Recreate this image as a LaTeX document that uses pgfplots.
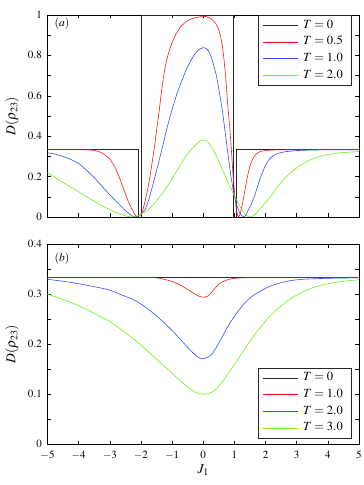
\documentclass[border=0pt]{standalone}
\usepackage{mathptmx}
\usepackage{fontspec}
\setmainfont{Liberation Serif}
\usepackage{pgfplots}
\pgfplotsset{compat=1.18}

\definecolor{cblack}{RGB}{40,40,40}
\definecolor{cred}{RGB}{255,20,20}
\definecolor{cblue}{RGB}{50,80,255}
\definecolor{cgreen}{RGB}{110,240,20}

\pgfplotsset{
  panel/.style={
    scale only axis, width=311.5pt,
    xmin=-5, xmax=5, xtick={-5,...,5},
    tick align=inside, tick pos=both,
    major tick length=3.5pt, minor tick length=3.5pt,
    minor y tick num=1,
    axis line style={line width=0.8pt},
    every tick/.style={black, line width=0.5pt},
    tick label style={font=\fontsize{11}{13}\selectfont},
    xticklabel style={yshift=-3.5pt},
    yticklabel style={xshift=-2pt},
    every axis y label/.style={at={(axis description cs:-0.114,0.5)}, rotate=90,
      anchor=center, font=\fontsize{13.5}{15}\selectfont},
    ylabel={$D(\rho_{23})$},
    legend cell align=left,
    legend image code/.code={\draw[#1] (0pt,0pt) -- (35pt,0pt);},
    legend style={draw=black!85, line width=0.8pt, inner xsep=4pt, inner ysep=1.5pt,
      font=\fontsize{12.5}{14}\selectfont,
      nodes={inner xsep=5pt, inner ysep=2.75pt, text height=8.5pt, text depth=2.7pt}},
  },
  c0/.style={cblack, line width=0.6pt},
  c1/.style={cred, line width=0.6pt},
  c2/.style={cblue, line width=0.6pt},
  c3/.style={cgreen, line width=0.6pt},
}

\begin{document}
\begin{tikzpicture}
% (a)
\begin{axis}[panel, at={(47.5pt,268pt)}, anchor=south west, height=202pt,
  ymin=0, ymax=1, ytick={0,0.2,0.4,0.6,0.8,1}, xticklabels={},
  legend style={at={(rel axis cs:0.9785,1)}, anchor=north east}]
\addplot[c0] coordinates {(-5,0.3333) (-2.08,0.3333) (-2.08,0) (-1.98,0) (-1.98,1)
  (0.95,1) (0.95,0) (1.05,0) (1.05,0.3333) (5,0.3333)};
\addplot[c1] coordinates {(-5,0.3333) (-4.5,0.3333) (-4,0.3332) (-3.7,0.3325)
  (-3.5,0.330) (-3.3,0.321) (-3.15,0.307) (-3.0,0.288) (-2.83,0.245) (-2.7,0.2) (-2.62,0.165)
  (-2.5,0.115) (-2.41,0.078) (-2.3,0.042) (-2.2,0.014) (-2.15,0.004) (-2.12,0.0) (-2.08,0.002)
  (-2.03,0.008) (-1.98,0.02) (-1.92,0.045) (-1.85,0.09) (-1.78,0.14) (-1.71,0.2) (-1.63,0.28)
  (-1.55,0.365) (-1.48,0.45) (-1.41,0.53) (-1.35,0.61) (-1.28,0.69) (-1.2,0.76) (-1.1,0.82)
  (-1.01,0.86) (-0.88,0.905) (-0.75,0.938) (-0.6,0.961) (-0.48,0.974) (-0.3,0.985) (-0.1,0.991)
  (0.06,0.993) (0.2,0.986) (0.3,0.975) (0.4,0.958) (0.48,0.935) (0.55,0.9) (0.61,0.85)
  (0.67,0.775) (0.72,0.695) (0.76,0.61) (0.80,0.53) (0.85,0.445) (0.89,0.365) (0.925,0.28)
  (0.96,0.2) (1.01,0.115) (1.05,0.055) (1.08,0.025) (1.11,0.007) (1.13,0.0) (1.16,0.006)
  (1.2,0.025) (1.25,0.058) (1.3,0.1) (1.35,0.142) (1.4,0.185) (1.45,0.222) (1.5,0.252)
  (1.56,0.278) (1.62,0.297) (1.7,0.312) (1.8,0.322) (1.9,0.327) (2.05,0.330) (2.3,0.332)
  (3,0.3333) (5,0.3333)};
\addplot[c2] coordinates {(-5,0.318) (-4.75,0.311) (-4.5,0.30) (-4.25,0.285) (-4.0,0.266)
  (-3.75,0.232) (-3.5,0.195) (-3.25,0.152) (-3.0,0.11) (-2.75,0.07) (-2.5,0.032) (-2.35,0.013)
  (-2.28,0.005) (-2.22,0.0) (-2.15,0.002) (-2.08,0.006) (-2.0,0.014) (-1.93,0.024) (-1.87,0.037)
  (-1.8,0.062) (-1.75,0.085) (-1.65,0.14) (-1.55,0.2) (-1.4,0.29) (-1.28,0.365) (-1.15,0.448)
  (-1.01,0.528) (-0.85,0.608) (-0.75,0.65) (-0.64,0.693) (-0.53,0.735) (-0.43,0.765) (-0.3,0.8)
  (-0.2,0.82) (-0.1,0.833) (0,0.838) (0.08,0.836) (0.17,0.822) (0.25,0.795) (0.34,0.75)
  (0.43,0.695) (0.52,0.615) (0.61,0.53) (0.68,0.448) (0.75,0.365) (0.82,0.28) (0.89,0.2)
  (0.96,0.135) (1.03,0.085) (1.1,0.048) (1.16,0.024) (1.22,0.008) (1.29,0.0) (1.35,0.007)
  (1.4,0.02) (1.45,0.035) (1.5,0.05) (1.56,0.07) (1.66,0.11) (1.77,0.165) (1.88,0.212)
  (1.98,0.25) (2.1,0.282) (2.2,0.298) (2.3,0.308) (2.4,0.315) (2.62,0.323) (3.0,0.329)
  (3.4,0.331) (4,0.333) (5,0.333)};
\addplot[c3] coordinates {(-5,0.22) (-4.77,0.197) (-4.54,0.175) (-4.27,0.15) (-4.0,0.125)
  (-3.74,0.1) (-3.47,0.076) (-3.2,0.052) (-2.94,0.031) (-2.77,0.02) (-2.6,0.011) (-2.45,0.004)
  (-2.3,0.0) (-2.2,0.002) (-2.1,0.006) (-1.95,0.018) (-1.76,0.035) (-1.55,0.07) (-1.33,0.112)
  (-1.15,0.152) (-0.98,0.195) (-0.8,0.24) (-0.6,0.29) (-0.43,0.326) (-0.25,0.356) (-0.1,0.376)
  (0,0.381) (0.1,0.377) (0.2,0.362) (0.32,0.334) (0.41,0.306) (0.5,0.275) (0.6,0.24)
  (0.7,0.205) (0.83,0.16) (0.96,0.118) (1.1,0.075) (1.23,0.038) (1.35,0.014) (1.43,0.003)
  (1.5,0.0) (1.57,0.003) (1.65,0.011) (1.76,0.028) (1.88,0.05) (2.04,0.079) (2.2,0.109)
  (2.36,0.143) (2.52,0.175) (2.68,0.201) (2.84,0.224) (3.1,0.255) (3.37,0.279) (3.64,0.295)
  (3.91,0.307) (4.4,0.318) (5,0.324)};
\legend{$T=0$, $T=0.5$, $T=1.0$, $T=2.0$}
\node[font=\fontsize{11.5}{13}\selectfont] at (axis description cs:0.0466,0.955) {$(a)$};
\end{axis}
% (b)
\begin{axis}[panel, at={(47.5pt,40.7pt)}, anchor=south west, height=200pt,
  ymin=0, ymax=0.4, ytick={0,0.1,0.2,0.3,0.4},
  xlabel={$J_1$},
  every axis x label/.style={at={(axis description cs:0.5,-0.13)}, anchor=center,
    font=\fontsize{13.5}{15}\selectfont},
  legend style={at={(rel axis cs:0.9785,0.03)}, anchor=south east}]
\addplot[c0] coordinates {(-5,0.3333) (5,0.3333)};
\addplot[c1, smooth, tension=0.5] coordinates {(-5,0.3333) (-2,0.3333) (-1.5,0.3328) (-1.07,0.327)
  (-0.75,0.319) (-0.43,0.307) (-0.16,0.297) (0,0.294) (0.16,0.297) (0.32,0.308) (0.54,0.322)
  (0.86,0.3305) (1.3,0.3330) (2,0.3333) (5,0.3333)};
\addplot[c2, smooth, tension=0.5] coordinates {(-5,0.330) (-4.17,0.323) (-3.1,0.310) (-2.67,0.300)
  (-2.14,0.286) (-1.60,0.262) (-1.07,0.232) (-0.53,0.196) (-0.21,0.176) (0,0.171) (0.27,0.18)
  (0.54,0.207) (0.80,0.237) (1.07,0.262) (1.34,0.283) (1.61,0.298) (2.14,0.316) (2.68,0.326)
  (3.2,0.330) (4,0.332) (5,0.333)};
\addplot[c3, smooth, tension=0.5] coordinates {(-5,0.300) (-4.17,0.282) (-3.1,0.249) (-2.67,0.231)
  (-2.14,0.206) (-1.60,0.176) (-1.07,0.146) (-0.53,0.116) (-0.21,0.103) (0,0.100) (0.27,0.104)
  (0.54,0.119) (1.07,0.166) (1.61,0.216) (2.14,0.256) (2.68,0.286) (3.2,0.305) (3.6,0.315)
  (4,0.321) (4.5,0.326) (5,0.329)};
\legend{$T=0$, $T=1.0$, $T=2.0$, $T=3.0$}
\node[font=\fontsize{11.5}{13}\selectfont] at (axis description cs:0.0466,0.927) {$(b)$};
\end{axis}
\pgfresetboundingbox
\useasboundingbox (0pt,0pt) rectangle (364pt,485pt);
\end{tikzpicture}
\end{document}
